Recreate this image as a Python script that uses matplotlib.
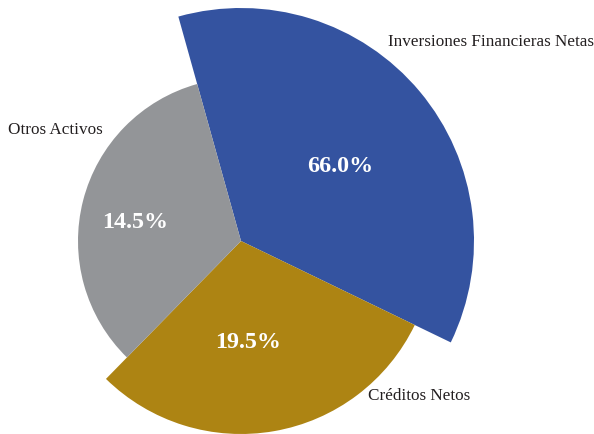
import numpy as np
import matplotlib
matplotlib.use('Agg')
import matplotlib.pyplot as plt
from matplotlib.patches import Wedge

# Composición de activos (%)
categorias = ['Inversiones Financieras Netas', 'Créditos Netos', 'Otros Activos']
valores = [66.0, 19.5, 14.5]
colores = ['#3453a0', '#ad8413', '#939598']

# Geometría de cada sector: apertura angular (grados) y radio (px)
aperturas = [131.4, 108.6, 120.0]
radios = [233, 193, 163]
inicio = 105.6
centro = (241, 193)

# Posición polar de los porcentajes (radio en px, ángulo en grados)
etq_r = [124, 102, 108]
etq_ang = [37.2, -86.0, 170.0]

plt.rcParams['font.family'] = ['Liberation Serif', 'DejaVu Serif']

fig = plt.figure(figsize=(5.94, 4.34), dpi=100)
ax = fig.add_axes([0, 0, 1, 1])
ax.set_xlim(0, 594)
ax.set_ylim(0, 434)
ax.set_aspect('equal')
ax.axis('off')

angulo = inicio
for val, col, ap, r, er, ea in zip(valores, colores, aperturas, radios, etq_r, etq_ang):
    ax.add_patch(Wedge(centro, r, angulo - ap, angulo, facecolor=col, edgecolor='none'))
    x = centro[0] + er * np.cos(np.deg2rad(ea))
    y = centro[1] + er * np.sin(np.deg2rad(ea))
    ax.text(x, y, f'{val:.1f}%', color='white', fontsize=17.3,
            fontweight='bold', ha='center', va='center')
    angulo -= ap

# Nombres de las categorías
ax.text(388, 392, categorias[0], fontsize=12.3, color='#231f20', ha='left', va='center')
ax.text(368, 38, categorias[1], fontsize=12.3, color='#231f20', ha='left', va='center')
ax.text(8, 304, categorias[2], fontsize=12.3, color='#231f20', ha='left', va='center')

fig.savefig('out.png', dpi=100)
